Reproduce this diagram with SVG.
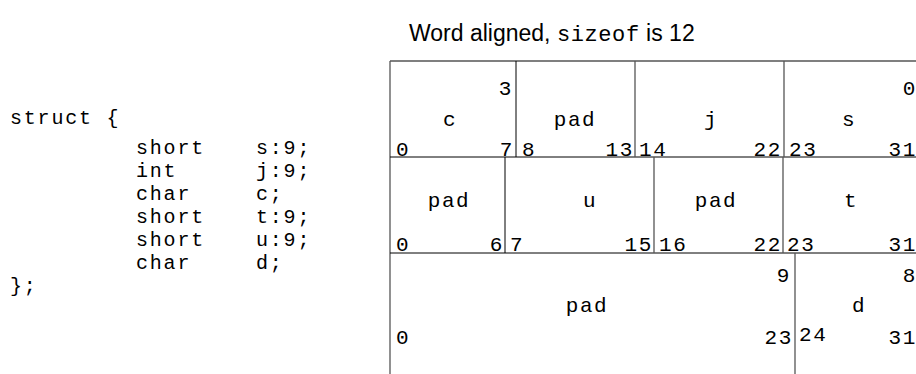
<svg xmlns="http://www.w3.org/2000/svg" width="916" height="374" viewBox="0 0 916 374">
<style>
.m{font-family:"Liberation Mono","Courier New",monospace;font-size:21px;letter-spacing:1.6px;fill:#000}
.k{font-family:"Liberation Mono","Courier New",monospace;font-size:20px;letter-spacing:1.8px;fill:#000}
.c{text-anchor:middle}
.r{text-anchor:end}
.t{font-family:"Liberation Sans",Arial,sans-serif;font-size:23px;fill:#000}
.ln{stroke:#000;stroke-width:1;fill:none}
.g{stroke:#555;stroke-width:1.3;fill:none}
</style>
<rect width="916" height="374" fill="#fff"/>
<text class="t" x="409" y="41">Word aligned, <tspan style="font-family:'Liberation Mono',monospace;font-size:22px;letter-spacing:0.6px">sizeof</tspan> is 12</text>
<g id="code">
<text class="k" x="10" y="124">struct {</text>
<text class="k" x="136" y="154">short</text><text class="k" x="256" y="154">s:9;</text>
<text class="k" x="136" y="177">int</text><text class="k" x="256" y="177">j:9;</text>
<text class="k" x="136" y="200">char</text><text class="k" x="256" y="200">c;</text>
<text class="k" x="136" y="223">short</text><text class="k" x="256" y="223">t:9;</text>
<text class="k" x="136" y="246">short</text><text class="k" x="256" y="246">u:9;</text>
<text class="k" x="136" y="269">char</text><text class="k" x="256" y="269">d;</text>
<text class="k" x="10" y="292">};</text>
</g>
<g id="grid">
<line class="g" x1="390" y1="61" x2="916" y2="61"/>
<line class="g" x1="390" y1="61" x2="390" y2="374"/>
<line class="ln" x1="390" y1="157" x2="916" y2="157"/>
<line class="ln" x1="390" y1="253" x2="916" y2="253"/>
<line class="ln" x1="516" y1="61" x2="516" y2="157"/>
<line class="g" x1="635" y1="61" x2="635" y2="157"/>
<line class="g" x1="784" y1="61" x2="784" y2="157"/>
<line class="ln" x1="505" y1="157" x2="505" y2="253"/>
<line class="g" x1="654" y1="157" x2="654" y2="253"/>
<line class="g" x1="783" y1="157" x2="783" y2="253"/>
<line class="g" x1="795" y1="253" x2="795" y2="374"/>
</g>
<g id="cell-c">
<text class="m r" x="513" y="95">3</text>
<text class="m c" x="450" y="126">c</text>
<text class="m" x="396" y="156">0</text><text class="m r" x="514" y="156">7</text>
</g>
<g id="cell-pad1">
<text class="m c" x="575" y="126">pad</text>
<text class="m" x="522" y="156">8</text><text class="m r" x="634" y="156">13</text>
</g>
<g id="cell-j">
<text class="m c" x="711" y="126">j</text>
<text class="m" x="639" y="156">14</text><text class="m r" x="782" y="156">22</text>
</g>
<g id="cell-s">
<text class="m r" x="917" y="95">0</text>
<text class="m c" x="849" y="126">s</text>
<text class="m" x="789" y="156">23</text><text class="m r" x="917" y="156">31</text>
</g>
<g id="cell-pad2">
<text class="m c" x="449" y="207">pad</text>
<text class="m" x="396" y="251">0</text><text class="m r" x="504" y="251">6</text>
</g>
<g id="cell-u">
<text class="m c" x="590" y="207">u</text>
<text class="m" x="510" y="251">7</text><text class="m r" x="653" y="251">15</text>
</g>
<g id="cell-pad3">
<text class="m c" x="716" y="207">pad</text>
<text class="m" x="659" y="251">16</text><text class="m r" x="782" y="251">22</text>
</g>
<g id="cell-t">
<text class="m c" x="851" y="207">t</text>
<text class="m" x="787" y="251">23</text><text class="m r" x="917" y="251">31</text>
</g>
<g id="cell-pad4">
<text class="m r" x="791" y="282">9</text>
<text class="m c" x="587" y="312">pad</text>
<text class="m" x="396" y="344">0</text><text class="m r" x="793" y="344">23</text>
</g>
<g id="cell-d">
<text class="m r" x="917" y="282">8</text>
<text class="m c" x="859" y="312">d</text>
<text class="m" x="799" y="341">24</text><text class="m r" x="917" y="344">31</text>
</g>
</svg>
